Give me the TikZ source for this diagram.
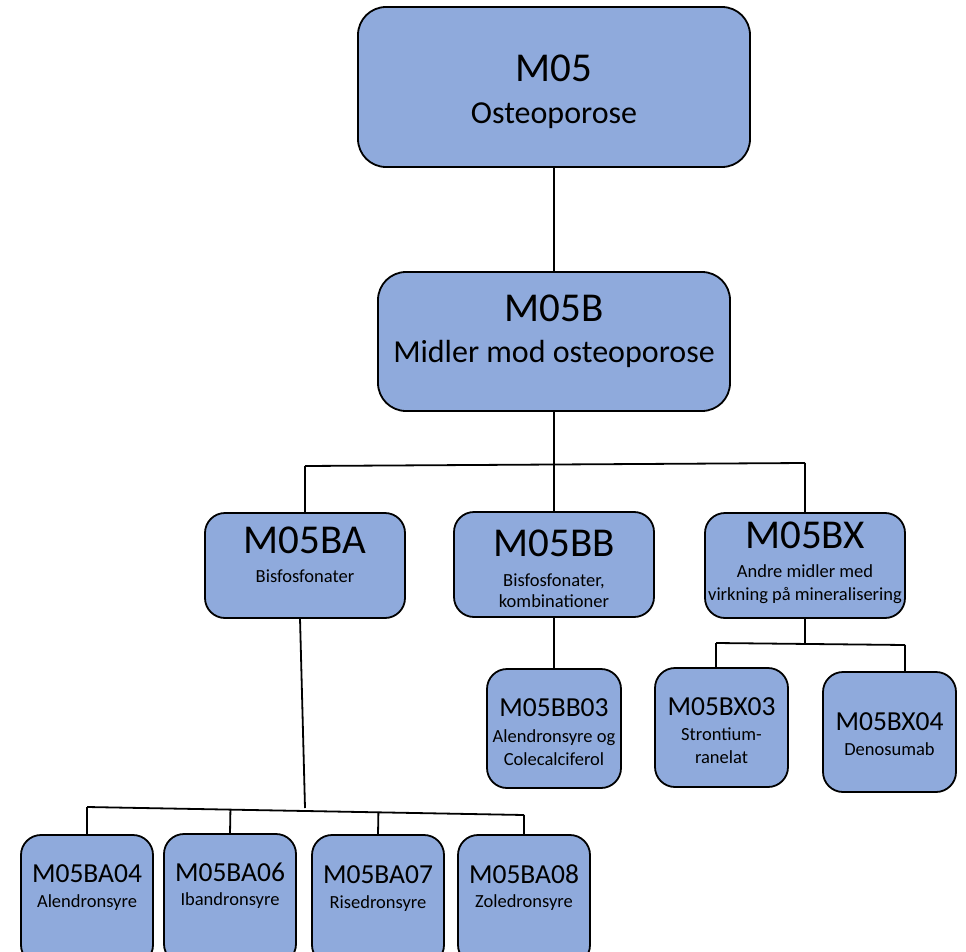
\documentclass[tikz,border=0pt]{standalone}
\usepackage{fontspec}
\setmainfont{Carlito}
\usepackage{tikz}
\usetikzlibrary{calc}
\definecolor{boxblue}{HTML}{8FAADC}

\begin{document}
\begin{tikzpicture}[x=1pt, y=-1pt, line width=1.8pt,
  atcbox/.style={draw=black, fill=boxblue, rounded corners=#1, inner sep=0pt, outer sep=0pt},
  atcbox/.default=20pt,
  bigcode/.style={anchor=base, inner sep=0pt, font=\fontsize{41}{49}\selectfont},
  midcode/.style={anchor=base, inner sep=0pt, font=\fontsize{27.5}{33}\selectfont},
  bigname/.style={anchor=base, inner sep=0pt, font=\fontsize{32}{38}\selectfont},
  smallname/.style={anchor=base, inner sep=0pt, font=\fontsize{18.5}{22}\selectfont}]
\useasboundingbox (0,0) rectangle (966,952);
\clip (0,0) rectangle (966,952);
\node[atcbox=28pt, minimum width=392pt, minimum height=160pt] (m05) at (554,87) {};
\node[atcbox=28pt, minimum width=352pt, minimum height=139pt] (m05b) at (554,341.5) {};
\node[atcbox, minimum width=200pt, minimum height=105pt] (m05ba) at (305,565.5) {};
\node[atcbox, minimum width=200pt, minimum height=105pt] (m05bb) at (554,564.5) {};
\node[atcbox, minimum width=200pt, minimum height=105pt] (m05bx) at (805,565.5) {};
\node[atcbox, minimum width=134pt, minimum height=119pt] (m05bb03) at (554,728.5) {};
\node[atcbox, minimum width=133pt, minimum height=119pt] (m05bx03) at (721.5,727.5) {};
\node[atcbox, minimum width=133pt, minimum height=120pt] (m05bx04) at (889.5,732) {};
\node[atcbox, minimum width=132pt, minimum height=130pt] (m05ba04) at (87,900) {};
\node[atcbox, minimum width=132pt, minimum height=130pt] (m05ba06) at (230,899) {};
\node[atcbox, minimum width=132pt, minimum height=130pt] (m05ba07) at (378,900) {};
\node[atcbox, minimum width=132pt, minimum height=130pt] (m05ba08) at (524,900) {};
\node[bigcode] (t-m05) at (554,82) {M05};
\node[bigname] (n-m05) at (554,124) {Osteoporose};
\node[bigcode] (t-m05b) at (554,321) {M05B};
\node[bigname] (n-m05b) at (554,362) {Midler mod osteoporose};
\node[bigcode] (t-m05ba) at (305,553) {M05BA};
\node[smallname] (n-m05ba) at (305,582) {Bisfosfonater};
\node[bigcode] (t-m05bb) at (554,556) {M05BB};
\node[smallname] (n-m05bb) at (554,586) {Bisfosfonater,};
\node[smallname] (n2-m05bb) at (554,607) {kombinationer};
\node[bigcode] (t-m05bx) at (805,548) {M05BX};
\node[smallname] (n-m05bx) at (805,577) {Andre midler med};
\node[smallname] (n2-m05bx) at (805,600) {virkning på mineralisering};
\node[midcode] (t-m05bb03) at (554,716) {M05BB03};
\node[smallname] (n-m05bb03) at (554,742) {Alendronsyre og};
\node[smallname] (n2-m05bb03) at (554,765) {Colecalciferol};
\node[midcode] (t-m05bx03) at (721.5,715) {M05BX03};
\node[smallname] (n-m05bx03) at (721.5,740) {Strontium-};
\node[smallname] (n2-m05bx03) at (721.5,763) {ranelat};
\node[midcode] (t-m05bx04) at (889.5,730) {M05BX04};
\node[smallname] (n-m05bx04) at (889.5,755) {Denosumab};
\node[midcode] (t-m05ba04) at (87,882) {M05BA04};
\node[smallname] (n-m05ba04) at (87,907) {Alendronsyre};
\node[midcode] (t-m05ba06) at (230,881) {M05BA06};
\node[smallname] (n-m05ba06) at (230,905) {Ibandronsyre};
\node[midcode] (t-m05ba07) at (378,883) {M05BA07};
\node[smallname] (n-m05ba07) at (378,908) {Risedronsyre};
\node[midcode] (t-m05ba08) at (524,883) {M05BA08};
\node[smallname] (n-m05ba08) at (524,907) {Zoledronsyre};
\coordinate (busb-l) at (305,466);
\coordinate (busb-m) at (554,465);
\coordinate (busb-r) at (805,463);
\coordinate (busbx-m) at (805,643);
\coordinate (busbx-l) at (716,643);
\coordinate (busbx-r) at (905,645);
\coordinate (busba-m) at (305,808);
\coordinate (busba-l) at (87,807);
\coordinate (busba-r) at (524,815);
\draw (m05.south) -- (m05b.south |- m05b.north);
\draw (m05b.south) -- (busb-m);
\draw (busb-l) -- (busb-r);
\draw (busb-l) -- (m05ba.north);
\draw (busb-m) -- (m05bb.north);
\draw (busb-r) -- (m05bx.north);
\draw (m05bb.south) -- (m05bb03.north);
\draw (m05bx.south) -- (busbx-m);
\draw (busbx-l) -- (busbx-r);
\draw (busbx-l) -- (busbx-l |- m05bx03.north);
\draw (busbx-r) -- (busbx-r |- m05bx04.north);
\draw ([xshift=-5pt]m05ba.south) -- (busba-m);
\draw (busba-l) -- (busba-r);
\draw (busba-l) -- (m05ba04.north);
\draw ($(busba-l)!(m05ba06.north)!(busba-r)$) -- (m05ba06.north);
\draw ($(busba-l)!(m05ba07.north)!(busba-r)$) -- (m05ba07.north);
\draw (busba-r) -- (m05ba08.north);
\end{tikzpicture}
\end{document}
